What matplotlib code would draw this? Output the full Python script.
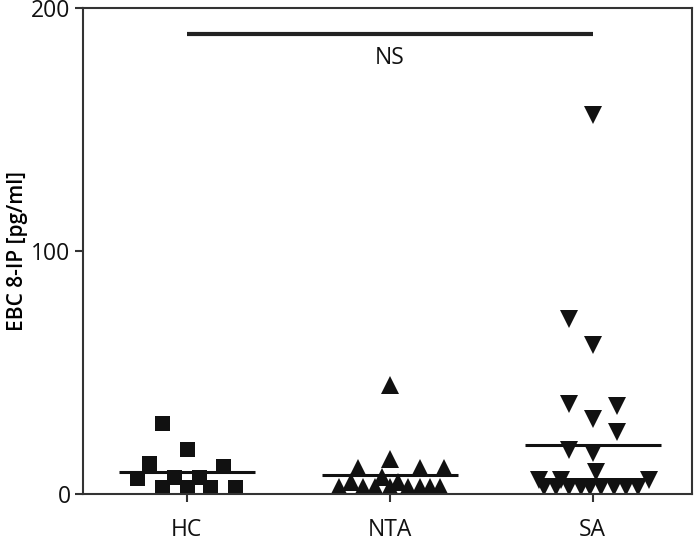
import matplotlib
matplotlib.use("Agg")
import matplotlib.pyplot as plt

plt.rcParams['font.family'] = ['Open Sans', 'DejaVu Sans']

groups = ["HC", "NTA", "SA"]

# values, with the horizontal scatter offset of each point
hc_vals = [29.2, 18.5, 12.8, 11.5, 6.6, 7.0, 7.0, 3.0, 3.0, 3.0, 3.0]
hc_jit = [-0.123, 0.0, -0.183, 0.178, -0.242, -0.064, 0.059, -0.123, 0.0, 0.118, 0.237]

nta_vals = [45.0, 14.4, 10.7, 10.7, 10.7, 7.0, 4.8, 4.8,
            2.8, 2.8, 2.8, 2.8, 2.8, 2.8, 2.8, 2.8]
nta_jit = [0.0, 0.0, -0.153, 0.148, 0.267, -0.035, -0.19, 0.04,
           -0.25, -0.13, -0.07, 0.09, 0.15, 0.2, 0.25, 0.0]

sa_vals = [156.0, 72.0, 61.3, 37.0, 36.2, 30.9, 25.5, 18.0, 17.0, 9.0,
           5.8, 5.8, 5.8,
           3.0, 3.0, 3.0, 3.0, 3.0, 3.0, 3.0, 3.0, 3.0]
sa_jit = [0.0, -0.118, 0.0, -0.118, 0.123, 0.0, 0.123, -0.118, 0.0, 0.015,
          -0.262, -0.153, 0.277,
          -0.237, -0.178, -0.118, -0.059, -0.01, 0.044, 0.104, 0.163, 0.222]

mean_lines = [9.0, 7.8, 20.2]
ns_level = 189.3

fig = plt.figure(figsize=(6.94, 5.44), dpi=100)
ax = fig.add_axes([0.1196, 0.092, 0.8775, 0.893])

col = "#111111"
ax.plot([0 + j for j in hc_jit], hc_vals, 's', color=col, markersize=10.8,
        markeredgewidth=0, linestyle='none')
ax.plot([1 + j for j in nta_jit], nta_vals, '^', color=col, markersize=13,
        markeredgewidth=0, linestyle='none')
ax.plot([2 + j for j in sa_jit], sa_vals, 'v', color=col, markersize=13,
        markeredgewidth=0, linestyle='none')

for i, m in enumerate(mean_lines):
    ax.plot([i - 0.335, i + 0.335], [m, m], color=col, linewidth=2.2,
            solid_capstyle='butt')

# significance bar
ax.plot([0, 2], [ns_level, ns_level], color="#222222", linewidth=3,
        solid_capstyle='butt')
ax.text(1, ns_level - 10, "NS", ha='center', va='center', fontsize=16.5,
        color="#111111")

ax.set_xlim(-0.51, 2.49)
ax.set_ylim(0, 200)
ax.set_xticks([0, 1, 2])
ax.set_xticklabels(groups)
ax.set_yticks([0, 100, 200])
ax.set_ylabel("EBC 8-IP [pg/ml]", fontsize=15, fontweight='semibold', labelpad=2)

for s in ax.spines.values():
    s.set_linewidth(1.5)
    s.set_color("#333333")
ax.tick_params(axis='both', direction='out', length=6, width=1.5,
               color="#333333", labelsize=16.5, labelcolor="#111111", pad=3)
ax.tick_params(axis='x', pad=11)

fig.savefig("out.png", dpi=100)
